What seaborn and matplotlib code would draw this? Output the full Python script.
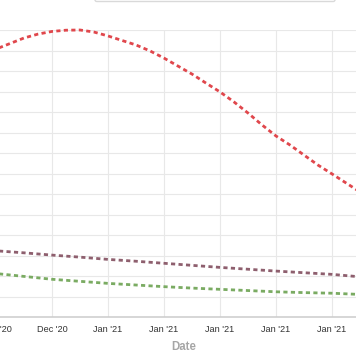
import pandas as pd
import seaborn as sns
import matplotlib.pyplot as plt
from matplotlib.patches import FancyBboxPatch

# data (x in tick units, y in gridline units)
red_x = [-0.25, 0, 0.25, 0.5, 0.75, 1, 1.25, 1.5, 1.75, 2, 2.25, 2.5, 2.75, 3,
         3.25, 3.5, 3.75, 4, 4.25, 4.5, 4.75, 5, 5.25, 5.5, 5.75, 6, 6.25, 6.5, 6.75]
red_y = [129.3, 130.7, 133.4, 136.1, 138.0, 139.3, 139.9, 140.0, 139.0, 137.1,
         134.9, 132.7, 129.8, 126.3, 122.4, 118.5, 114.1, 109.8, 104.9, 99.5,
         93.7, 88.3, 83.9, 79.0, 74.1, 69.8, 65.4, 61.0, 56.6]

line_x = [-0.25, 0, 0.5, 1, 1.5, 2, 2.5, 3, 3.5, 4, 4.5, 5, 5.5, 6, 6.5, 6.75]
brown_y = [32.7, 32.3, 31.3, 30.2, 29.2, 28.1, 27.2, 26.2, 25.2, 24.2, 23.3,
           22.4, 21.6, 20.8, 19.6, 19.2]
green_y = [21.7, 21.2, 19.8, 18.4, 17.4, 16.4, 15.6, 14.8, 14.1, 13.5, 12.9,
           12.3, 11.9, 11.6, 11.0, 10.8]

tick_pos = [0, 1, 2, 3, 4, 5, 6]
tick_labels = ["Nov '20", "Dec '20", "Jan '21", "Jan '21", "Jan '21", "Jan '21", "Jan '21"]

series = [
    ("red", red_x, red_y, "#e0474c"),
    ("brown", line_x, brown_y, "#8e5f6e"),
    ("green", line_x, green_y, "#7aab62"),
]

sns.set_style("white")
plt.rcParams['font.family'] = ['Liberation Sans', 'DejaVu Sans']

W, H = 356, 364
fig = plt.figure(figsize=(W / 100, H / 100), dpi=100)
# axes deliberately wider than the figure, the reference is a crop
left_px, right_px, top_px, bottom_px = -60, 416, 30, 317
ax = fig.add_axes([left_px / W, 1 - bottom_px / H,
                   (right_px - left_px) / W, (bottom_px - top_px) / H])

for name, xs, ys, col in series:
    df = pd.DataFrame({"x": xs, "y": ys})
    sns.lineplot(data=df, x="x", y="y", ax=ax, color=col, linewidth=2.0,
                 linestyle=(0, (1.5, 1.2)), legend=False, clip_on=False)

ax.set_xlim((left_px + 4) / 56, (right_px + 4) / 56)
ax.set_ylim(0, 140)
ax.set_xticks(tick_pos)
ax.set_xticklabels(tick_labels, fontsize=6.6, color="#333333")
ax.set_yticks(range(0, 150, 10))
ax.set_yticklabels([])
ax.tick_params(axis="y", length=0)
ax.tick_params(axis="x", length=3.6, width=0.8, color="#cccccc", pad=2.2)
ax.grid(True, color="#e8e8e8", linewidth=0.8)
ax.set_axisbelow(True)
for s in ["left", "right", "top"]:
    ax.spines[s].set_visible(False)
ax.spines["bottom"].set_color("#cccccc")
ax.spines["bottom"].set_linewidth(1.1)

ax.set_ylabel("")
ax.set_xlabel("Date", fontsize=8.3, fontweight="bold", color="#a6a6a6", va="center")
ax.xaxis.set_label_coords((184 - left_px) / (right_px - left_px),
                          -(347 - bottom_px) / (bottom_px - top_px))

# bottom edge of the legend box peeking in at the top
box = FancyBboxPatch((95 / W, 1 - 1.5 / H), 240 / W, 0.2,
                     boxstyle="round,pad=0,rounding_size=0.005",
                     transform=fig.transFigure, facecolor="white",
                     edgecolor="#d9d9d9", linewidth=1.0)
fig.add_artist(box)

fig.savefig("out.png", dpi=100)
